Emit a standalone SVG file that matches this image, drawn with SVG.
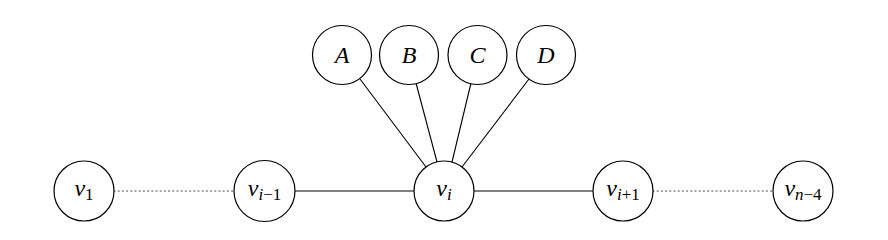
<svg xmlns="http://www.w3.org/2000/svg" width="888" height="240" viewBox="0 0 888 240">
<style>
.n{fill:#fff;stroke:#000;stroke-width:1.2}
.e{stroke:#000;stroke-width:1.1;fill:none}
.d{stroke:#444;stroke-width:1.2;stroke-dasharray:1 3.2;stroke-linecap:round;fill:none}
.t{font-family:"Liberation Serif","DejaVu Serif",serif;font-style:italic;font-size:24px;text-anchor:middle;fill:#000}
.s{font-size:17px}
.u{font-style:normal}
</style>
<rect width="888" height="240" fill="#fff"/>
<g id="connectors">
<line class="d" x1="114" y1="191" x2="234" y2="191"/>
<line class="d" x1="653" y1="191" x2="773" y2="191"/>
<line class="e" x1="295" y1="191" x2="414" y2="191"/>
<line class="e" x1="474" y1="191" x2="593" y2="191"/>
<line class="e" x1="360" y1="79" x2="426" y2="167"/>
<line class="e" x1="416" y1="83" x2="437" y2="162"/>
<line class="e" x1="471" y1="83" x2="452" y2="162"/>
<line class="e" x1="529" y1="79" x2="462" y2="167"/>
</g>
<g id="v1"><circle class="n" cx="84" cy="191" r="30"/><text class="t" x="84" y="196">v<tspan class="s u" dy="4">1</tspan></text></g>
<g id="vim1"><circle class="n" cx="264.5" cy="191" r="30.5"/><text class="t" x="264.5" y="196">v<tspan class="s" dy="4">i</tspan><tspan class="s u">−1</tspan></text></g>
<g id="vi"><circle class="n" cx="444" cy="191" r="30"/><text class="t" x="444" y="196">v<tspan class="s" dy="4">i</tspan></text></g>
<g id="vip1"><circle class="n" cx="623" cy="191" r="30"/><text class="t" x="623" y="196">v<tspan class="s" dy="4">i</tspan><tspan class="s u">+1</tspan></text></g>
<g id="vn4"><circle class="n" cx="803" cy="191" r="30"/><text class="t" x="803" y="196">v<tspan class="s" dy="4">n</tspan><tspan class="s u">−4</tspan></text></g>
<g id="A"><circle class="n" cx="342" cy="55" r="29.5"/><text class="t" x="342" y="63">A</text></g>
<g id="B"><circle class="n" cx="409" cy="55" r="29.5"/><text class="t" x="409" y="63">B</text></g>
<g id="C"><circle class="n" cx="477.5" cy="55" r="29.5"/><text class="t" x="477.5" y="63">C</text></g>
<g id="D"><circle class="n" cx="546" cy="55" r="29.5"/><text class="t" x="546" y="63">D</text></g>
</svg>
